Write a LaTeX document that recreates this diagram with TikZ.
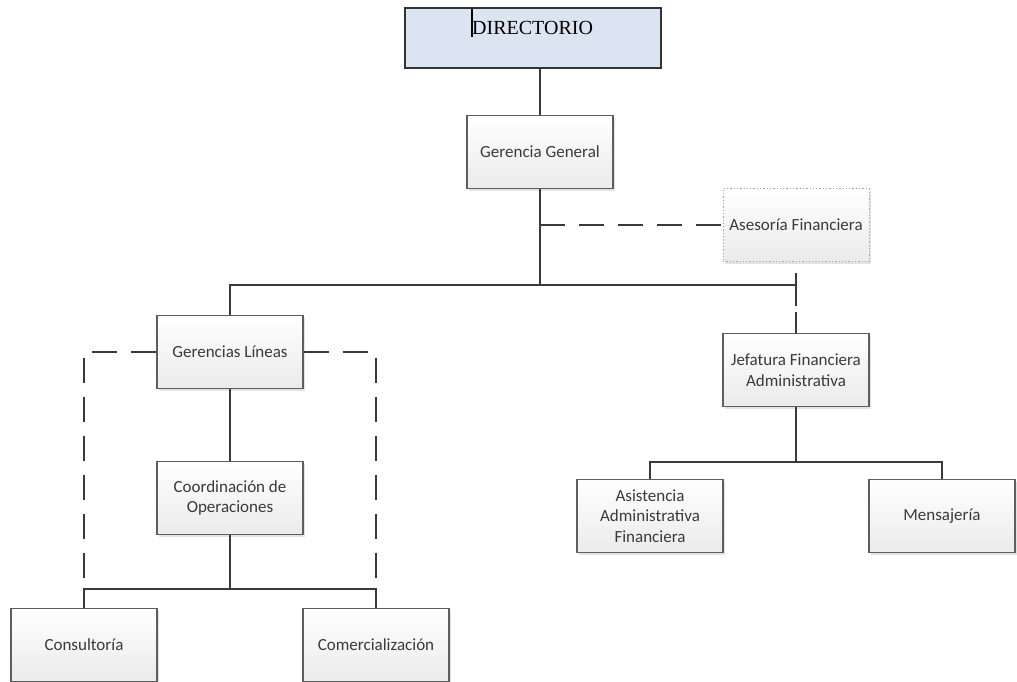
\documentclass[tikz,border=0pt]{standalone}
\usepackage{fontspec}
\setmainfont{Carlito}
\newfontfamily\serifface{Liberation Serif}
\usetikzlibrary{shadows}
\definecolor{ink}{HTML}{3A3A3A}
\definecolor{edge}{HTML}{5E5E5E}
\definecolor{dirfill}{HTML}{DBE5F1}
\tikzset{
  unit/.style={rectangle, draw=edge, line width=1.3pt, top color=white, bottom color=black!8,
    minimum width=146pt, minimum height=73pt, align=center, text=ink,
    font=\fontsize{17}{20.5}\selectfont, inner sep=2pt,
    drop shadow={shadow xshift=2pt, shadow yshift=-2pt, fill=black!18, opacity=0.6}},
  advisor/.style={unit, draw=black!35, dotted, line width=1pt},
  link/.style={draw=ink, line width=2pt},
  dlink/.style={draw=ink, line width=2pt, dash pattern=on 25pt off 14pt},
}
\begin{document}
\begin{tikzpicture}[x=1pt, y=-1pt]
\useasboundingbox (0,0) rectangle (1017,681);
\begin{scope}
\clip (0,0) rectangle (1017,681);

% top board
\node[rectangle, draw=black!80, line width=1.3pt, fill=dirfill, minimum width=256pt, minimum height=60pt]
  (dir) at (533,38) {};
\node[anchor=west, font=\serifface\fontsize{20}{23}\selectfont, text=black, inner sep=0pt]
  (dirlabel) at (472,28) {DIRECTORIO};
\coordinate (caretA) at (472,9);
\coordinate (caretB) at (472,37);
\draw[line width=1.6pt, black] (caretA) -- (caretB);

% boxes
\node[unit]    (gg)   at (540,152) {Gerencia General};
\node[advisor] (ase)  at (796,225) {Asesoría Financiera};
\node[unit]    (gl)   at (230,352) {Gerencias Líneas};
\node[unit]    (co)   at (230,498) {Coordinación de\\Operaciones};
\node[unit]    (cons) at (84,645)  {Consultoría};
\node[unit]    (com)  at (376,645) {Comercialización};
\node[unit]    (jef)  at (796,370) {Jefatura Financiera\\Administrativa};
\node[unit]    (asis) at (650,516) {Asistencia\\Administrativa\\Financiera};
\node[unit]    (men)  at (942,516) {Mensajería};

% bus levels
\coordinate (busA) at (540,285);
\coordinate (busB) at (230,589);
\coordinate (busC) at (796,462);

% main spine
\draw[link] (gg.north) -- (gg.north |- dir.south);
\draw[link] (gg.south) -- (busA);
\draw[dlink] (gg.south |- ase.west) -- (ase.west);

% second level bus
\draw[link] (gl.north) |- (busA) -| (jef.north |- busA);
\draw[link, dash pattern=on 0pt off 11pt on 33pt off 6pt on 40pt] (ase.south) -- (jef.north);

% lines branch
\draw[link] (gl.south) -- (co.north);
\draw[link] (co.south) -- (busB);
\draw[link] (cons.north) |- (busB) -| (com.north);
\draw[dlink] (gl.west) -| (cons.north |- busB);
\draw[dlink] (gl.east) -| (com.north |- busB);

% finance branch
\draw[link] (jef.south) -- (busC);
\draw[link] (asis.north) |- (busC) -| (men.north);
\end{scope}
\end{tikzpicture}
\end{document}
